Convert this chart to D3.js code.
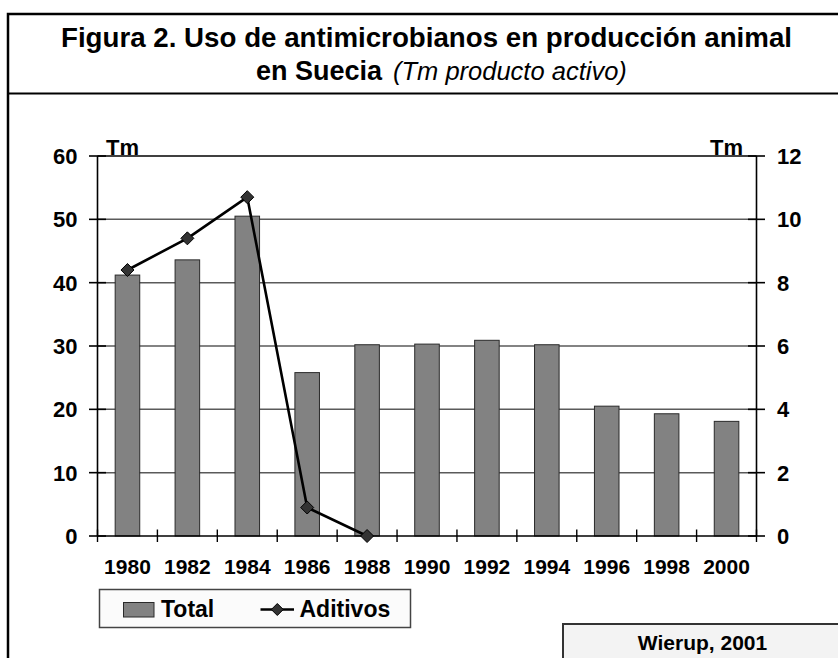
<!DOCTYPE html>
<html>
<head>
<meta charset="utf-8">
<script src="https://cdn.jsdelivr.net/npm/d3@7"></script>
<style>
  html, body { margin: 0; padding: 0; background: #fff; }
  svg { display: block; font-family: "Liberation Sans", Arial, sans-serif; }
</style>
</head>
<body>
<svg id="chart" width="838" height="658"></svg>
<script>
// ---- data ----
const years = ["1980","1982","1984","1986","1988","1990","1992","1994","1996","1998","2000"];
const totalValues = [41.2, 43.6, 50.5, 25.8, 30.2, 30.3, 30.9, 30.2, 20.5, 19.3, 18.1];
const aditivosYears = ["1980","1982","1984","1986","1988"];
const aditivosValues = [8.4, 9.4, 10.7, 0.9, 0.0];
const leftTicks = [0, 10, 20, 30, 40, 50, 60];
const rightTicks = [0, 2, 4, 6, 8, 10, 12];
const titleLine1 = "Figura 2. Uso de antimicrobianos en producción animal";
const titleLine2Bold = "en Suecia";
const titleLine2Italic = "(Tm producto activo)";
const axisUnit = "Tm";
const legendLabels = ["Total", "Aditivos"];
const sourceText = "Wierup, 2001";

// ---- layout ----
const svg = d3.select("#chart");
const plot = { left: 97.5, right: 756.5, top: 156, bottom: 536 };

// outer frame
svg.append("rect").attr("x", 8).attr("y", 14).attr("width", 900).attr("height", 700)
  .attr("fill", "#fff").attr("stroke", "#000").attr("stroke-width", 2.5);
svg.append("line").attr("x1", 8).attr("x2", 838).attr("y1", 93.5).attr("y2", 93.5)
  .attr("stroke", "#000").attr("stroke-width", 2);

// title
svg.append("text").attr("x", 426.5).attr("y", 46.5).attr("text-anchor", "middle")
  .attr("font-size", 27).attr("font-weight", "bold").attr("fill", "#000")
  .attr("textLength", 731).attr("lengthAdjust", "spacingAndGlyphs")
  .text(titleLine1);
const t2 = svg.append("text").attr("y", 80).attr("fill", "#000");
t2.append("tspan").attr("x", 256).attr("font-size", 27).attr("font-weight", "bold").text(titleLine2Bold);
t2.append("tspan").attr("x", 393).attr("font-size", 25.5).attr("font-style", "italic").text(titleLine2Italic);

// scales
const x = d3.scaleBand().domain(years).range([plot.left, plot.right]).padding(0);
const xBar = d3.scaleBand().domain(years).range([plot.left, plot.right])
  .paddingInner(0.59).paddingOuter(0.295);
const yL = d3.scaleLinear().domain([0, 60]).range([plot.bottom, plot.top]);
const yR = d3.scaleLinear().domain([0, 12]).range([plot.bottom, plot.top]);

// gridlines
svg.append("g").selectAll("line").data(leftTicks.filter(d => d > 0 && d < 60)).join("line")
  .attr("x1", plot.left).attr("x2", plot.right)
  .attr("y1", d => yL(d)).attr("y2", d => yL(d))
  .attr("stroke", "#5a5a5a").attr("stroke-width", 1.5);

// bars
svg.append("g").selectAll("rect").data(years).join("rect")
  .attr("x", d => xBar(d))
  .attr("width", xBar.bandwidth())
  .attr("y", (d, i) => yL(totalValues[i]))
  .attr("height", (d, i) => yL(0) - yL(totalValues[i]))
  .attr("fill", "#828282").attr("stroke", "#2a2a2a").attr("stroke-width", 1);

// plot frame (top, left, right, bottom)
const frame = svg.append("g").attr("stroke", "#000").attr("stroke-width", 1.6);
frame.append("line").attr("x1", plot.left).attr("x2", plot.right).attr("y1", plot.top).attr("y2", plot.top);
frame.append("line").attr("x1", plot.left).attr("x2", plot.left).attr("y1", plot.top).attr("y2", plot.bottom);
frame.append("line").attr("x1", plot.right).attr("x2", plot.right).attr("y1", plot.top).attr("y2", plot.bottom);
frame.append("line").attr("x1", plot.left).attr("x2", plot.right).attr("y1", plot.bottom).attr("y2", plot.bottom);

// left axis ticks + labels
const gL = svg.append("g");
gL.selectAll("line").data(leftTicks).join("line")
  .attr("x1", plot.left - 8.5).attr("x2", plot.left + 8.5)
  .attr("y1", d => yL(d)).attr("y2", d => yL(d))
  .attr("stroke", "#000").attr("stroke-width", 1.6);
gL.selectAll("text").data(leftTicks).join("text")
  .attr("x", 77.5).attr("y", d => yL(d)).attr("dy", "0.36em")
  .attr("text-anchor", "end").attr("font-size", 22).attr("font-weight", "bold")
  .text(d => d);

// right axis ticks + labels
const gR = svg.append("g");
gR.selectAll("line").data(rightTicks).join("line")
  .attr("x1", plot.right - 8.5).attr("x2", plot.right + 8.5)
  .attr("y1", d => yR(d)).attr("y2", d => yR(d))
  .attr("stroke", "#000").attr("stroke-width", 1.6);
gR.selectAll("text").data(rightTicks).join("text")
  .attr("x", 777).attr("y", d => yR(d)).attr("dy", "0.36em")
  .attr("text-anchor", "start").attr("font-size", 22).attr("font-weight", "bold")
  .text(d => d);

// x ticks (category boundaries) + labels
const boundaries = years.map(d => x(d)).concat([plot.right]);
svg.append("g").selectAll("line").data(boundaries).join("line")
  .attr("x1", d => d).attr("x2", d => d)
  .attr("y1", plot.bottom - 6.5).attr("y2", plot.bottom + 6)
  .attr("stroke", "#000").attr("stroke-width", 1.4);
svg.append("g").selectAll("text").data(years).join("text")
  .attr("x", d => x(d) + x.bandwidth() / 2).attr("y", 574)
  .attr("text-anchor", "middle").attr("font-size", 21).attr("font-weight", "bold")
  .text(d => d);

// unit labels
svg.append("text").attr("x", 106).attr("y", 155).attr("font-size", 22).attr("font-weight", "bold").text(axisUnit);
svg.append("text").attr("x", 743).attr("y", 155).attr("text-anchor", "end").attr("font-size", 22).attr("font-weight", "bold").text(axisUnit);

// aditivos line
const lineGen = d3.line()
  .x((d, i) => x(aditivosYears[i]) + x.bandwidth() / 2)
  .y(d => yR(d));
svg.append("path").datum(aditivosValues).attr("d", lineGen)
  .attr("fill", "none").attr("stroke", "#000").attr("stroke-width", 2.6).attr("stroke-linejoin", "round");
const diamond = s => `M0,${-s}L${s},0L0,${s}L${-s},0Z`;
svg.append("g").selectAll("path").data(aditivosValues).join("path")
  .attr("transform", (d, i) => `translate(${x(aditivosYears[i]) + x.bandwidth() / 2},${yR(d)})`)
  .attr("d", diamond(6.5))
  .attr("fill", "#333").attr("stroke", "#000").attr("stroke-width", 1);

// legend
const lg = svg.append("g");
lg.append("rect").attr("x", 99.5).attr("y", 589.5).attr("width", 311).attr("height", 38)
  .attr("fill", "#fbfbfb").attr("stroke", "#444").attr("stroke-width", 1.5);
lg.append("rect").attr("x", 123.5).attr("y", 602.5).attr("width", 30.5).attr("height", 14.5)
  .attr("fill", "#828282").attr("stroke", "#2a2a2a").attr("stroke-width", 1);
lg.append("text").attr("x", 161).attr("y", 617).attr("font-size", 23).attr("font-weight", "bold").text(legendLabels[0]);
lg.append("line").attr("x1", 260.5).attr("x2", 294).attr("y1", 609.5).attr("y2", 609.5)
  .attr("stroke", "#000").attr("stroke-width", 2.6);
lg.append("path").attr("transform", "translate(277.3,609.5)").attr("d", diamond(6))
  .attr("fill", "#333").attr("stroke", "#000").attr("stroke-width", 1);
lg.append("text").attr("x", 299.5).attr("y", 617).attr("font-size", 23).attr("font-weight", "bold").text(legendLabels[1]);

// source box
svg.append("rect").attr("x", 563).attr("y", 624).attr("width", 300).attr("height", 60)
  .attr("fill", "#f3f3f3").attr("stroke", "#333").attr("stroke-width", 2);
svg.append("text").attr("x", 702.5).attr("y", 650).attr("text-anchor", "middle")
  .attr("font-size", 21).attr("font-weight", "bold").text(sourceText);
</script>
</body>
</html>
